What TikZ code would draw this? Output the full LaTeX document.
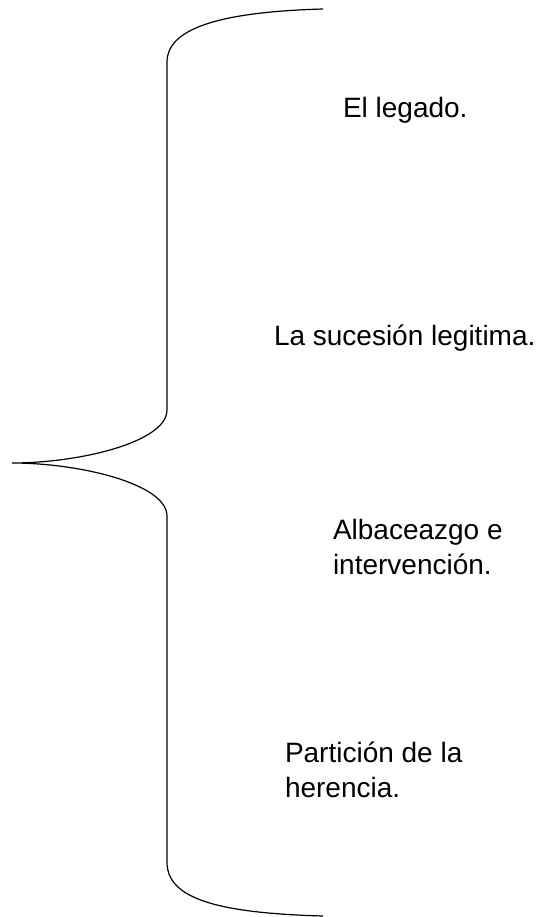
\documentclass[tikz,border=0pt]{standalone}
\usepackage{fontspec}
\setmainfont{Liberation Sans}
\begin{document}
\begin{tikzpicture}[x=1bp,y=-1bp,
  lbl/.style={inner sep=0pt,outer sep=0pt,anchor=base west,align=left,
    font=\fontsize{28bp}{34.5bp}\selectfont},
  brace/.style={line width=1.2bp,black}]
\useasboundingbox (0,0) rectangle (548,917);
\coordinate (top) at (323,9);
\coordinate (a) at (167,62);
\coordinate (b) at (167,410);
\coordinate (tip) at (12,463);
\coordinate (c) at (167,516);
\coordinate (d) at (167,862);
\coordinate (bot) at (323,916);
\draw[brace] (top) .. controls (215,12) and (167,30) .. (a) -- (b)
  .. controls (167,442) and (80,463) .. (tip)
  .. controls (80,463) and (167,484) .. (c) -- (d)
  .. controls (167,898) and (215,913) .. (bot);
\node[lbl] (t1) at (343,117) {El legado.};
\node[lbl] (t2) at (274,345) {La sucesión legitima.};
\node[lbl] (t3) at (333,574) {Albaceazgo e\\intervención.};
\node[lbl] (t4) at (285,797) {Partición de la\\herencia.};
\end{tikzpicture}
\end{document}
